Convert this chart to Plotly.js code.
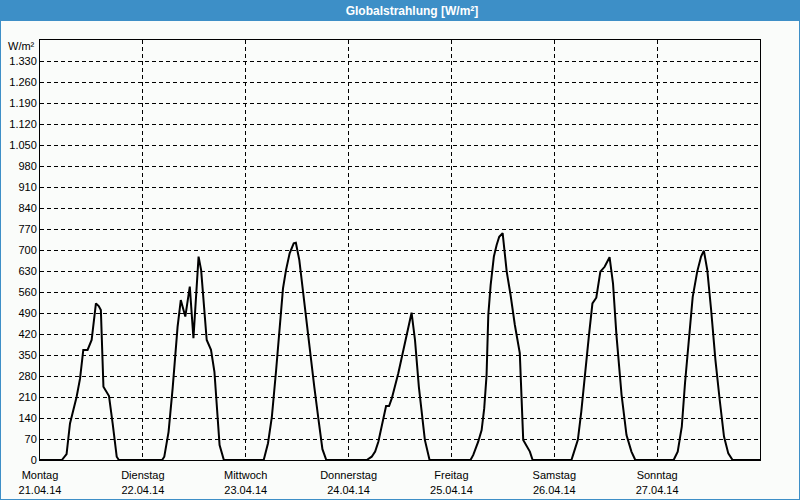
<!DOCTYPE html>
<html>
<head>
<meta charset="utf-8">
<script src="https://cdn.plot.ly/plotly-3.0.1.min.js"></script>
<style>
  html, body { margin: 0; padding: 0; background: #fafcfa; }
  #chart { width: 800px; height: 500px; }
</style>
</head>
<body>
<div id="chart"></div>
<script>
// ---- Data ----
const dayNames = ['Montag', 'Dienstag', 'Mittwoch', 'Donnerstag', 'Freitag', 'Samstag', 'Sonntag'];
const dayDates = ['21.04.14', '22.04.14', '23.04.14', '24.04.14', '25.04.14', '26.04.14', '27.04.14'];

// hour of day / value in W/m² for each day
const monHours = [0, 5.1, 6.2, 7.0, 8.55, 9.35, 10.1, 11.1, 12.05, 13.05, 13.7, 14.2, 14.8, 16.1, 16.95, 17.9, 18.4];
const monVals  = [0, 0, 20, 122, 211, 272, 367, 367, 400, 522, 513, 500, 244, 213, 122, 11, 0];

const tueHours = [0, 4.5, 5.0, 6.0, 6.95, 7.7, 8.1, 8.85, 9.9, 10.95, 11.8, 13.0, 13.6, 14.9, 15.9, 16.7, 17.9, 18.9];
const tueVals  = [0, 0, 11, 94, 239, 383, 444, 533, 478, 578, 406, 678, 633, 400, 367, 294, 50, 0];

const wedHours = [0, 4.2, 5.2, 6.1, 7.1, 7.9, 8.7, 9.4, 10.25, 11.2, 11.7, 12.5, 13.3, 14.1, 15.1, 16.0, 17.0, 17.9, 18.8];
const wedVals  = [0, 0, 56, 144, 300, 444, 572, 633, 689, 722, 724, 667, 567, 472, 356, 244, 133, 36, 0];

const thuHours = [0, 4.25, 5.4, 6.2, 6.95, 7.7, 8.75, 9.45, 10.1, 11.6, 13.2, 14.7, 15.5, 16.4, 17.8, 18.9];
const thuVals  = [0, 0, 11, 28, 61, 111, 180, 180, 206, 289, 389, 491, 400, 244, 67, 0];

const friHours = [0, 4.45, 5.1, 6.25, 7.05, 7.65, 8.2, 8.6, 9.15, 9.9, 10.55, 11.15, 11.95, 12.9, 13.8, 14.8, 15.95, 16.75, 18.3, 18.95];
const friVals  = [0, 0, 17, 61, 100, 172, 283, 483, 583, 678, 717, 744, 756, 628, 550, 450, 356, 67, 28, 0];

const satHours = [0, 4.0, 4.5, 5.5, 6.3, 7.1, 8.1, 8.9, 9.8, 10.75, 11.75, 12.9, 13.7, 14.5, 15.7, 16.85, 18.0, 18.9];
const satVals  = [0, 0, 22, 67, 161, 283, 417, 522, 541, 628, 644, 676, 589, 417, 217, 83, 28, 0];

const sunHours = [0, 3.85, 4.8, 5.75, 6.5, 7.35, 8.3, 9.35, 10.25, 10.9, 11.7, 12.6, 13.6, 14.6, 15.6, 16.6, 17.6, 24];
const sunVals  = [0, 0, 28, 111, 256, 400, 544, 628, 678, 698, 633, 500, 333, 200, 78, 22, 0, 0];

const yTickVals = [0, 70, 140, 210, 280, 350, 420, 490, 560, 630, 700, 770, 840, 910, 980, 1050, 1120, 1190, 1260, 1330];
const yTickText = ['0', '70', '140', '210', '280', '350', '420', '490', '560', '630', '700', '770', '840', '910', '980', '1.050', '1.120', '1.190', '1.260', '1.330'];

// ---- Build series (hours since Monday 00:00) ----
const dayHours = [monHours, tueHours, wedHours, thuHours, friHours, satHours, sunHours];
const dayVals  = [monVals, tueVals, wedVals, thuVals, friVals, satVals, sunVals];
const xs = [], ys = [];
dayHours.forEach((hrs, d) => {
  hrs.forEach((h, i) => { xs.push(d * 24 + h); ys.push(dayVals[d][i]); });
});

const xTickVals = dayNames.map((_, i) => i * 24);
const xTickText = dayNames.map((n, i) => n + '<br>' + dayDates[i]);

// pixel helpers for decorations outside the plot area
const L = 40, R = 40, T = 40, B = 40, W = 800, H = 500;
const pw = W - L - R, ph = H - T - B;
const px = x => (x - L) / pw;
const py = y => (H - B - y) / ph;

const font = { family: 'Liberation Sans, Arial, sans-serif', size: 11, color: '#000000' };
const blue = '#3d8fc7';

const trace = {
  x: xs, y: ys, type: 'scatter', mode: 'lines',
  line: { color: '#000000', width: 2 },
  hoverinfo: 'skip'
};

const layout = {
  width: W, height: H,
  margin: { l: L, r: R, t: T, b: B },
  paper_bgcolor: '#fafcfa',
  plot_bgcolor: '#fafcfa',
  showlegend: false,
  title: {
    text: '<b>Globalstrahlung [W/m²]</b>',
    font: { family: 'Liberation Sans, Arial, sans-serif', size: 12, color: '#ffffff' },
    xref: 'container', x: 412 / W, xanchor: 'center',
    yref: 'container', y: 1 - 10.5 / H, yanchor: 'middle'
  },
  xaxis: {
    range: [0, 168],
    tickvals: xTickVals, ticktext: xTickText,
    showgrid: true, gridcolor: '#000000', gridwidth: 1, griddash: '4px,3px',
    showline: true, mirror: true, linecolor: '#000000', linewidth: 1,
    ticks: '', ticklabelstandoff: 5, zeroline: false, tickfont: font, fixedrange: true
  },
  yaxis: {
    range: [0, 1400],
    tickvals: yTickVals, ticktext: yTickText,
    showgrid: true, gridcolor: '#000000', gridwidth: 1, griddash: '4px,3px',
    showline: true, mirror: true, linecolor: '#000000', linewidth: 1,
    ticks: '', zeroline: false, tickfont: font, fixedrange: true
  },
  annotations: [{
    text: 'W/m²', xref: 'paper', yref: 'paper', x: 0, y: 1,
    xanchor: 'right', yanchor: 'middle', xshift: -3, yshift: -6,
    showarrow: false, font: font
  }],
  shapes: [
    { type: 'rect', xref: 'paper', yref: 'paper', layer: 'below',
      x0: px(0), x1: px(W), y0: py(21), y1: py(0),
      fillcolor: blue, line: { width: 0 } },
    { type: 'rect', xref: 'paper', yref: 'paper', layer: 'above',
      x0: px(0), x1: px(W), y0: py(H), y1: py(0),
      fillcolor: 'rgba(0,0,0,0)', line: { color: blue, width: 2 } }
  ]
};

Plotly.newPlot('chart', [trace], layout, { staticPlot: true, displayModeBar: false });
</script>
</body>
</html>
